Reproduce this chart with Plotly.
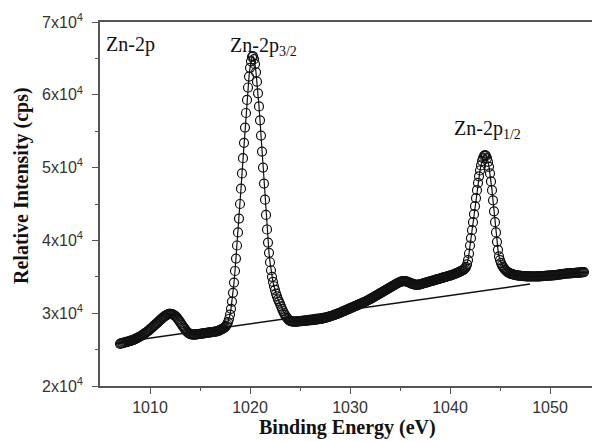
import plotly.graph_objects as go

# Binding energy grid (eV): 0.1 eV steps starting at 1007.0
E_START = 1007.0
E_STEP = 0.1

# Measured intensity (cps), one row per eV
intensity = [
    25800, 25850, 25900, 25880, 25950, 26000, 26050, 26020, 26100, 26150,  # 1007
    26200, 26230, 26280, 26300, 26380, 26450, 26500, 26580, 26650, 26720,  # 1008
    26800, 26870, 26950, 27050, 27130, 27250, 27350, 27450, 27550, 27650,  # 1009
    27800, 27900, 28020, 28150, 28280, 28400, 28520, 28650, 28780, 28900,  # 1010
    29050, 29150, 29280, 29400, 29520, 29600, 29700, 29780, 29850, 29900,  # 1011
    29920, 29900, 29880, 29820, 29750, 29650, 29520, 29380, 29200, 29000,  # 1012
    28800, 28600, 28380, 28180, 28000, 27800, 27620, 27450, 27320, 27220,  # 1013
    27150, 27100, 27080, 27060, 27050, 27060, 27080, 27100, 27120, 27140,  # 1014
    27160, 27180, 27200, 27220, 27240, 27260, 27280, 27300, 27320, 27340,  # 1015
    27360, 27380, 27400, 27420, 27440, 27460, 27480, 27520, 27550, 27600,  # 1016
    27700, 27750, 27800, 27880, 27970, 28080, 28250, 28480, 28780, 29200,  # 1017
    29800, 30600, 31600, 32800, 34200, 35800, 37500, 39300, 41100, 43000,  # 1018
    45000, 47100, 49200, 51300, 53400, 55500, 57500, 59300, 61000, 62500,  # 1019
    63700, 64600, 65200, 65300, 64900, 64200, 63100, 61800, 60200, 58400,  # 1020
    56500, 54400, 52200, 50000, 47800, 45600, 43500, 41500, 39700, 38300,  # 1021
    37000, 35900, 35000, 34300, 33700, 33200, 32700, 32300, 31900, 31600,  # 1022
    31300, 30950, 30600, 30300, 30000, 29750, 29550, 29350, 29200, 29050,  # 1023
    28950, 28900, 28870, 28850, 28840, 28830, 28840, 28850, 28860, 28880,  # 1024
    28900, 28910, 28920, 28940, 28950, 28960, 28980, 29000, 29010, 29020,  # 1025
    29040, 29050, 29060, 29080, 29100, 29110, 29130, 29150, 29170, 29180,  # 1026
    29200, 29230, 29260, 29300, 29330, 29370, 29400, 29440, 29480, 29520,  # 1027
    29560, 29600, 29650, 29700, 29750, 29800, 29850, 29900, 29950, 30000,  # 1028
    30060, 30120, 30180, 30240, 30300, 30360, 30420, 30480, 30540, 30600,  # 1029
    30660, 30720, 30780, 30840, 30900, 30960, 31020, 31080, 31140, 31200,  # 1030
    31260, 31320, 31380, 31440, 31500, 31570, 31640, 31710, 31780, 31850,  # 1031
    31920, 32000, 32080, 32160, 32240, 32320, 32400, 32480, 32560, 32640,  # 1032
    32720, 32800, 32880, 32960, 33040, 33120, 33200, 33280, 33360, 33440,  # 1033
    33520, 33600, 33680, 33760, 33840, 33920, 34000, 34080, 34150, 34220,  # 1034
    34280, 34330, 34370, 34400, 34410, 34400, 34370, 34330, 34280, 34220,  # 1035
    34160, 34100, 34050, 34000, 33960, 33930, 33910, 33900, 33910, 33930,  # 1036
    33960, 34000, 34040, 34080, 34120, 34160, 34200, 34240, 34280, 34320,  # 1037
    34360, 34400, 34440, 34480, 34520, 34560, 34600, 34640, 34680, 34720,  # 1038
    34760, 34800, 34840, 34880, 34920, 34960, 35000, 35040, 35080, 35120,  # 1039
    35160, 35200, 35250, 35300, 35350, 35400, 35460, 35520, 35580, 35650,  # 1040
    35720, 35780, 35850, 35930, 36020, 36150, 36350, 36700, 37300, 38200,  # 1041
    39300, 40300, 41400, 42500, 43600, 44700, 45800, 46900, 47900, 48800,  # 1042
    49600, 50300, 50900, 51300, 51600, 51700, 51600, 51300, 50800, 50100,  # 1043
    49200, 48100, 46900, 45500, 44000, 42500, 41100, 39800, 38700, 37800,  # 1044
    37300, 36900, 36600, 36350, 36150, 35980, 35840, 35720, 35620, 35540,  # 1045
    35470, 35410, 35360, 35320, 35280, 35250, 35220, 35200, 35180, 35160,  # 1046
    35140, 35120, 35110, 35100, 35090, 35080, 35070, 35060, 35060, 35050,  # 1047
    35050, 35050, 35040, 35040, 35040, 35040, 35050, 35050, 35060, 35060,  # 1048
    35070, 35080, 35090, 35100, 35110, 35120, 35130, 35140, 35150, 35160,  # 1049
    35170, 35180, 35190, 35200, 35210, 35220, 35240, 35260, 35280, 35300,  # 1050
    35320, 35340, 35360, 35380, 35400, 35420, 35440, 35450, 35460, 35470,  # 1051
    35480, 35490, 35500, 35510, 35520, 35530, 35540, 35550, 35560, 35570,  # 1052
    35580, 35600, 35620, 35640, 35650,                                      # 1053
]
energy = [round(E_START + E_STEP * i, 2) for i in range(len(intensity))]

# Linear background
bg_energy = [1008.5, 1048.0]
bg_intensity = [26300, 34000]

# Axis ticks
y_tickvals = [20000, 30000, 40000, 50000, 60000, 70000]
y_ticktext = ["2x10<sup>4</sup>", "3x10<sup>4</sup>", "4x10<sup>4</sup>",
              "5x10<sup>4</sup>", "6x10<sup>4</sup>", "7x10<sup>4</sup>"]
x_tickvals = [1010, 1020, 1030, 1040, 1050]

SERIF = "Liberation Serif, Times New Roman, serif"
SANS = "Liberation Sans, Arial, sans-serif"
INK = "#111111"
AXIS = "#555555"

fig = go.Figure()
fig.add_trace(go.Scatter(
    x=energy, y=intensity, mode="lines+markers",
    line=dict(color=INK, width=1.2),
    marker=dict(symbol="circle-open", size=9, color=INK, line=dict(width=1.2, color=INK)),
    showlegend=False, hoverinfo="skip"))
fig.add_trace(go.Scatter(
    x=bg_energy, y=bg_intensity, mode="lines",
    line=dict(color=INK, width=1.5), showlegend=False, hoverinfo="skip"))

fig.update_layout(
    width=592, height=442,
    margin=dict(l=100, r=0, t=22, b=56),
    paper_bgcolor="white", plot_bgcolor="white",
    xaxis=dict(range=[1005, 1054.2], tickvals=x_tickvals, ticks="outside", ticklen=6,
               tickwidth=1.2, tickcolor=AXIS, showline=True, linecolor=AXIS, linewidth=1.5,
               mirror=True, showgrid=False, zeroline=False,
               tickfont=dict(family=SANS, size=16, color="#333333"),
               minor=dict(tickvals=[1015, 1025, 1035, 1045], ticks="outside", ticklen=3,
                          tickcolor=AXIS)),
    yaxis=dict(range=[20000, 70000], tickvals=y_tickvals, ticktext=y_ticktext,
               ticks="outside", ticklen=6, tickwidth=1.2, tickcolor=AXIS,
               showline=True, linecolor=AXIS, linewidth=1.5, mirror=False,
               showgrid=False, zeroline=False, ticklabelstandoff=6,
               tickfont=dict(family=SANS, size=16, color="#333333"),
               minor=dict(tickvals=[25000, 35000, 45000, 55000, 65000], ticks="outside",
                          ticklen=3, tickcolor=AXIS)),
    annotations=[
        dict(text="Zn-2p", x=1005.4, y=66900, xref="x", yref="y", xanchor="left",
             yanchor="middle", showarrow=False, font=dict(family=SERIF, size=20, color=INK)),
        dict(text="Zn-2p<sub>3/2</sub>", x=1021.3, y=66700, xref="x", yref="y",
             xanchor="center", yanchor="middle", showarrow=False,
             font=dict(family=SERIF, size=20, color=INK)),
        dict(text="Zn-2p<sub>1/2</sub>", x=1043.7, y=55300, xref="x", yref="y",
             xanchor="center", yanchor="middle", showarrow=False,
             font=dict(family=SERIF, size=20, color=INK)),
        dict(text="<b>Binding Energy (eV)</b>", x=(347 - 100) / 492, y=-41 / 364,
             xref="paper", yref="paper", xanchor="center", yanchor="middle",
             showarrow=False, font=dict(family=SERIF, size=20, color=INK)),
        dict(text="<b>Relative Intensity (cps)</b>", x=-78 / 492, y=(386 - 186) / 364,
             xref="paper", yref="paper", xanchor="center", yanchor="middle",
             textangle=-90, showarrow=False, font=dict(family=SERIF, size=20, color=INK)),
    ],
)

fig.write_html("out.html")
